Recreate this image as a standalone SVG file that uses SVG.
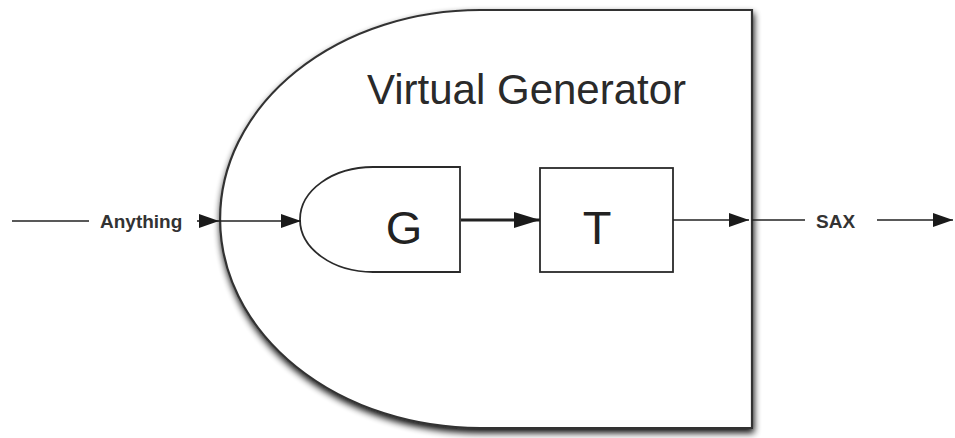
<svg xmlns="http://www.w3.org/2000/svg" width="955" height="438" viewBox="0 0 955 438">
  <style>
    .edge { fill: none; stroke: #222; stroke-width: 1.6; }
    .thick { stroke-width: 3; }
    .box { fill: #fff; stroke: #2a2a2a; stroke-width: 1.8; }
    .outer { fill: #fff; stroke: #333; stroke-width: 2.2; }
    .title { font-family: "Liberation Sans", Arial, sans-serif; font-size: 42px; fill: #2a2a2a; }
    .big { font-family: "Liberation Sans", Arial, sans-serif; font-size: 47px; fill: #222; text-anchor: middle; }
    .lbl { font-family: "Liberation Sans", Arial, sans-serif; font-size: 19px; font-weight: bold; fill: #333; }
  </style>
  <defs>
    <marker id="head" viewBox="0 0 20 14" refX="20" refY="7" markerWidth="20" markerHeight="14" markerUnits="userSpaceOnUse" orient="auto">
      <path d="M0,0 L20,7 L0,14 Z" fill="#1a1a1a"/>
    </marker>
    <marker id="headL" viewBox="0 0 26 16" refX="26" refY="8" markerWidth="26" markerHeight="16" markerUnits="userSpaceOnUse" orient="auto">
      <path d="M0,0 L26,8 L0,16 Z" fill="#1a1a1a"/>
    </marker>
    <filter id="shadow" x="-10%" y="-10%" width="125%" height="130%">
      <feGaussianBlur in="SourceAlpha" stdDeviation="3.5" result="b"/>
      <feOffset in="b" dx="1" dy="4" result="o"/>
      <feComponentTransfer in="o" result="s">
        <feFuncA type="linear" slope="0.95"/>
      </feComponentTransfer>
      <feMerge>
        <feMergeNode in="s"/>
        <feMergeNode in="SourceGraphic"/>
      </feMerge>
    </filter>
  </defs>

  <rect width="955" height="438" fill="#fff"/>

  <!-- Virtual Generator container -->
  <g id="virtual-generator">
    <path class="outer" filter="url(#shadow)" d="M480,10 L752,10 L752,428 L480,428 A260,209 0 0 1 480,10 Z"/>
    <text class="title" x="367" y="104">Virtual Generator</text>
  </g>

  <!-- Generator G -->
  <g id="node-g">
    <path class="box" d="M373,167 L460,167 L460,272 L373,272 A73,52.5 0 0 1 373,167 Z"/>
    <text class="big" x="404" y="244">G</text>
  </g>

  <!-- Transformer T -->
  <g id="node-t">
    <rect class="box" x="540" y="168" width="133" height="104"/>
    <text class="big" x="597" y="244">T</text>
  </g>

  <!-- Connectors and their labels -->
  <g id="connectors">
    <line class="edge" x1="12" y1="221" x2="89" y2="221"/>
    <text class="lbl" x="100" y="228">Anything</text>
    <line class="edge" x1="197" y1="221" x2="219" y2="221" marker-end="url(#head)"/>
    <line class="edge" x1="219" y1="221" x2="301" y2="221" marker-end="url(#head)"/>
    <line class="edge thick" x1="461" y1="220" x2="540" y2="220" marker-end="url(#headL)"/>
    <line class="edge" x1="673" y1="220" x2="749" y2="220" marker-end="url(#head)"/>
    <line class="edge" x1="752" y1="220" x2="805" y2="220"/>
    <text class="lbl" x="816" y="228">SAX</text>
    <line class="edge" x1="877" y1="220" x2="953" y2="220" marker-end="url(#head)"/>
  </g>
</svg>
